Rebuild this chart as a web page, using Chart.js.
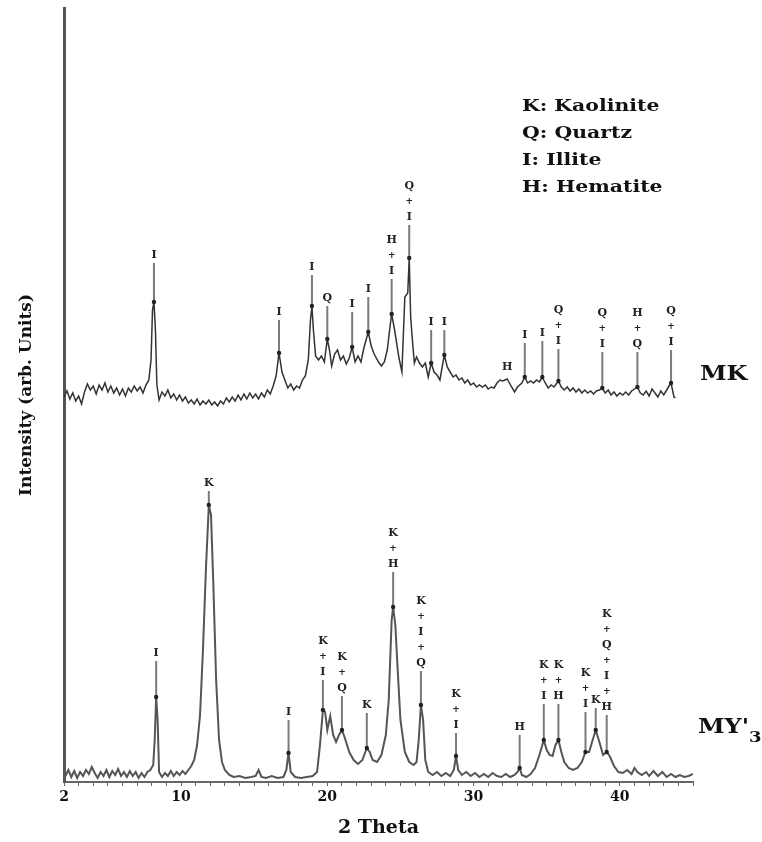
<!DOCTYPE html>
<html>
<head>
<meta charset="utf-8">
<script src="https://cdn.jsdelivr.net/npm/chart.js@4"></script>
<style>
  body { margin: 0; background: #fff; }
  #wrap { width: 762px; height: 842px; }
</style>
</head>
<body>
<div id="wrap"><canvas id="chart1"></canvas></div>
<script>
// MK pattern (upper trace), 2-theta and intensity (arb.)
var mkTheta = [2.0,2.2,2.4,2.6,2.8,3.0,3.2,3.4,3.6,3.8,4.0,4.2,4.4,4.6,4.8,5.0,5.2,5.4,5.6,5.8,6.0,6.2,6.4,6.6,6.8,7.0,7.2,7.4,7.6,7.8,7.95,8.05,8.15,8.25,8.35,8.5,8.7,8.9,9.1,9.3,9.5,9.7,9.9,10.1,10.3,10.5,10.7,10.9,11.1,11.3,11.5,11.7,11.9,12.1,12.3,12.5,12.7,12.9,13.1,13.3,13.5,13.7,13.9,14.1,14.3,14.5,14.7,14.9,15.1,15.3,15.5,15.7,15.9,16.1,16.3,16.5,16.7,16.9,17.1,17.3,17.5,17.7,17.9,18.1,18.3,18.5,18.7,18.85,18.95,19.05,19.2,19.4,19.6,19.8,20.0,20.15,20.3,20.5,20.7,20.9,21.1,21.3,21.5,21.7,21.9,22.1,22.3,22.5,22.8,23.0,23.2,23.5,23.7,23.9,24.1,24.3,24.4,24.6,24.9,25.1,25.3,25.5,25.6,25.7,25.8,25.95,26.1,26.3,26.5,26.7,26.9,27.1,27.3,27.5,27.7,27.9,28.0,28.2,28.4,28.6,28.8,29.0,29.2,29.4,29.6,29.8,30.0,30.2,30.4,30.6,30.8,31.0,31.2,31.4,31.6,31.8,32.0,32.3,32.6,32.8,33.0,33.3,33.5,33.7,33.9,34.1,34.3,34.5,34.7,34.9,35.1,35.3,35.5,35.8,36.0,36.2,36.4,36.6,36.8,37.0,37.2,37.4,37.6,37.8,38.0,38.2,38.4,38.6,38.8,39.0,39.2,39.4,39.6,39.8,40.0,40.2,40.4,40.6,40.8,41.0,41.2,41.4,41.6,41.8,42.0,42.2,42.4,42.6,42.8,43.0,43.2,43.4,43.5,43.7,43.8];
var mkInt = [385,391,383,389,381,386,378,390,398,392,396,388,397,392,399,390,396,389,394,387,393,386,394,390,396,391,395,389,397,402,422,472,480,452,397,382,390,386,392,384,388,382,387,381,385,379,382,378,383,377,381,378,382,377,380,376,381,378,384,380,385,381,387,382,388,383,389,384,388,383,389,385,392,388,396,406,429,410,402,394,398,392,396,394,402,406,422,462,476,452,426,422,426,420,443,432,416,428,432,422,426,418,424,435,420,426,420,434,450,436,428,420,416,420,432,457,468,452,424,410,485,489,524,465,445,419,425,419,415,419,405,419,410,407,402,419,427,415,410,405,407,402,404,399,402,397,399,395,397,395,397,393,395,394,399,402,401,403,395,390,395,399,405,399,401,399,402,400,405,399,394,397,395,401,395,392,395,391,394,390,393,389,392,389,391,388,391,392,394,389,392,387,390,386,389,387,390,387,391,393,395,389,387,391,386,393,389,385,391,387,392,397,399,385,384];

// MY'3 pattern (lower trace)
var myTheta = [2.1,2.3,2.5,2.7,2.9,3.1,3.3,3.5,3.7,3.9,4.1,4.3,4.5,4.7,4.9,5.1,5.3,5.5,5.7,5.9,6.1,6.3,6.5,6.7,6.9,7.1,7.3,7.5,7.7,7.9,8.1,8.2,8.3,8.4,8.5,8.7,8.9,9.1,9.3,9.5,9.7,9.9,10.1,10.3,10.5,10.7,10.9,11.1,11.3,11.5,11.7,11.9,12.05,12.2,12.4,12.6,12.8,13.0,13.3,13.6,14.0,14.4,14.8,15.1,15.3,15.5,15.8,16.2,16.6,17.0,17.2,17.35,17.5,17.8,18.2,18.6,19.0,19.3,19.5,19.7,19.85,20.0,20.2,20.4,20.6,20.8,21.0,21.2,21.5,21.8,22.1,22.4,22.7,22.9,23.1,23.4,23.7,24.0,24.2,24.4,24.5,24.65,24.85,25.0,25.3,25.6,25.9,26.1,26.25,26.4,26.55,26.7,26.9,27.2,27.5,27.8,28.1,28.4,28.65,28.8,28.95,29.2,29.5,29.8,30.1,30.4,30.7,31.0,31.3,31.6,31.9,32.2,32.5,32.8,33.0,33.15,33.3,33.6,33.9,34.2,34.5,34.8,35.0,35.2,35.4,35.6,35.8,36.0,36.2,36.5,36.8,37.1,37.4,37.65,37.9,38.1,38.35,38.6,38.85,39.1,39.3,39.6,39.9,40.2,40.5,40.8,41.0,41.2,41.5,41.8,42.0,42.3,42.6,42.9,43.2,43.5,43.8,44.1,44.4,44.7,45.0];
var myInt = [6,12,5,11,4,10,6,12,8,15,9,4,10,6,12,5,11,7,13,6,10,5,11,6,10,4,9,5,10,12,17,42,85,62,10,5,9,6,11,6,10,7,11,8,12,16,22,37,67,132,212,277,267,202,102,42,20,12,7,5,6,4,5,6,12,5,4,6,4,5,12,29,10,5,4,5,6,10,37,72,70,52,66,47,40,47,52,44,30,22,18,22,34,30,22,20,27,47,82,162,175,157,102,62,30,20,17,20,42,77,62,22,10,7,10,6,9,6,12,26,12,7,10,6,9,5,8,5,9,6,5,8,5,7,10,14,7,5,8,14,27,42,32,27,26,37,42,30,20,14,12,14,20,30,30,40,52,40,27,30,26,16,10,9,12,8,14,10,7,10,6,11,6,10,5,8,5,7,5,6,8];

// phase labels over the peaks (label level = height of lowest letter)
var mkPeakTheta = [8.15,16.7,18.95,20.0,21.7,22.8,24.4,25.6,27.1,28.0,32.3,33.5,34.7,35.8,38.8,41.2,43.5];
var mkPeakLabel = ["I","I","I","Q","I","I","H+I","Q+I","I","I","H","I","I","Q+I","Q+I","H+Q","Q+I"];
var mkPeakLevel = [527,470,515,484,478,493,511,565,460,460,415,447,449,441,438,438,440];

var myPeakTheta = [8.3,11.9,17.35,19.7,21.0,22.7,24.5,26.4,28.8,33.15,34.8,35.8,37.65,38.35,39.1];
var myPeakLabel = ["I","K","I","K+I","K+Q","K","K+H","K+I+Q","K+I","H","K+I","K+H","K+I","K","K+Q+I+H"];
var myPeakLevel = [129,299,70,110,94,77,218,119,57,55,86,86,78,82,75];

var tickLabels = [2,10,20,30,40];
var phaseKey = ["K: Kaolinite","Q: Quartz","I: Illite","H: Hematite"];

function toPoints(xs, ys) {
  return xs.map(function (t, i) { return {x: t, y: ys[i]}; });
}

function nearestValue(xs, ys, t) {
  var best = 0;
  for (var i = 1; i < xs.length; i++) {
    if (Math.abs(xs[i] - t) < Math.abs(xs[best] - t)) best = i;
  }
  return ys[best];
}

function drawPeakSet(ctx, sx, sy, xs, ys, thetas, labels, levels) {
  thetas.forEach(function (t, i) {
    var px = sx.getPixelForValue(t);
    var peakY = sy.getPixelForValue(nearestValue(xs, ys, t));
    var labY = sy.getPixelForValue(levels[i]);
    // arrow line + head
    if (peakY - labY > 16) {
      ctx.strokeStyle = '#7a7a7a';
      ctx.lineWidth = 2;
      ctx.beginPath();
      ctx.moveTo(px, labY + 8);
      ctx.lineTo(px, peakY);
      ctx.stroke();
      ctx.fillStyle = '#222';
      ctx.beginPath();
      ctx.arc(px, peakY, 2.2, 0, Math.PI * 2);
      ctx.fill();
    }
    // stacked letters, bottom up
    var parts = labels[i].split('');
    ctx.fillStyle = '#222';
    ctx.textAlign = 'center';
    ctx.textBaseline = 'middle';
    for (var k = 0; k < parts.length; k++) {
      var ch = parts[parts.length - 1 - k];
      ctx.font = ch === '+' ? 'bold 9px "DejaVu Serif"' : 'bold 11px "DejaVu Serif"';
      ctx.fillText(ch, px, labY - k * 15.5);
    }
  });
}

function stretchedText(ctx, str, x, y, sx) {
  ctx.save();
  ctx.translate(x, y);
  ctx.scale(sx, 1);
  ctx.fillText(str, 0, 0);
  var w = ctx.measureText(str).width * sx;
  ctx.restore();
  return w;
}

var peakMarks = {
  id: 'peakMarks',
  afterDatasetsDraw: function (chart) {
    var ctx = chart.ctx, sx = chart.scales.x, sy = chart.scales.y;
    ctx.save();
    drawPeakSet(ctx, sx, sy, mkTheta, mkInt, mkPeakTheta, mkPeakLabel, mkPeakLevel);
    drawPeakSet(ctx, sx, sy, myTheta, myInt, myPeakTheta, myPeakLabel, myPeakLevel);

    ctx.fillStyle = '#111';
    ctx.textAlign = 'left';
    ctx.textBaseline = 'alphabetic';
    // sample names
    ctx.font = 'bold 20px "DejaVu Serif"';
    stretchedText(ctx, 'MK', 700, 380, 1.2);
    var w = stretchedText(ctx, "MY'", 698, 733, 1.2);
    ctx.font = 'bold 15px "DejaVu Serif"';
    stretchedText(ctx, '3', 698 + w, 742, 1.2);
    // phase key
    ctx.font = 'bold 17px "DejaVu Serif"';
    phaseKey.forEach(function (s, i) {
      stretchedText(ctx, s, 522, 111 + i * 27, 1.2);
    });
    ctx.restore();
  }
};

new Chart("chart1", {
  type: "line",
  data: {
    datasets: [{
      label: 'MK',
      data: toPoints(mkTheta, mkInt),
      borderColor: '#333',
      borderWidth: 1.5,
      pointRadius: 0,
      fill: false,
      tension: 0
    },
    {
      label: "MY'3",
      data: toPoints(myTheta, myInt),
      borderColor: '#555',
      borderWidth: 2,
      pointRadius: 0,
      fill: false,
      tension: 0
    }]
  },
  options: {
    responsive: true,
    maintainAspectRatio: false,
    animation: false,
    layout: { padding: { top: 8, right: 69, bottom: 0, left: 0 } },
    plugins: {
      legend: { display: false },
      tooltip: { enabled: false }
    },
    scales: {
      x: {
        type: 'linear',
        min: 2,
        max: 45,
        afterBuildTicks: function (scale) {
          var t = [];
          for (var v = 2; v <= 45; v++) t.push({value: v});
          scale.ticks = t;
        },
        afterFit: function (scale) { scale.height = 60; },
        grid: {
          drawOnChartArea: false,
          tickLength: 4,
          color: '#666'
        },
        border: { color: '#666', width: 2 },
        ticks: {
          autoSkip: false,
          maxRotation: 0,
          padding: 3,
          color: '#111',
          font: { family: 'DejaVu Serif', size: 14, weight: 'bold' },
          callback: function (value) {
            return tickLabels.indexOf(value) >= 0 ? String(value) : '';
          }
        },
        title: {
          display: true,
          text: '2 Theta',
          color: '#111',
          padding: { top: 0, bottom: 3 },
          font: { family: 'DejaVu Serif', size: 19, weight: 'bold' }
        }
      },
      y: {
        min: 0,
        max: 774,
        afterFit: function (scale) { scale.width = 64; },
        grid: { display: false },
        border: { display: true, color: '#555', width: 3 },
        ticks: { display: false },
        title: {
          display: true,
          text: 'Intensity (arb. Units)',
          color: '#111',
          padding: { top: 16, bottom: 0 },
          font: { family: 'DejaVu Serif', size: 17, weight: 'bold' }
        }
      }
    }
  },
  plugins: [peakMarks]
});
</script>
</body>
</html>
